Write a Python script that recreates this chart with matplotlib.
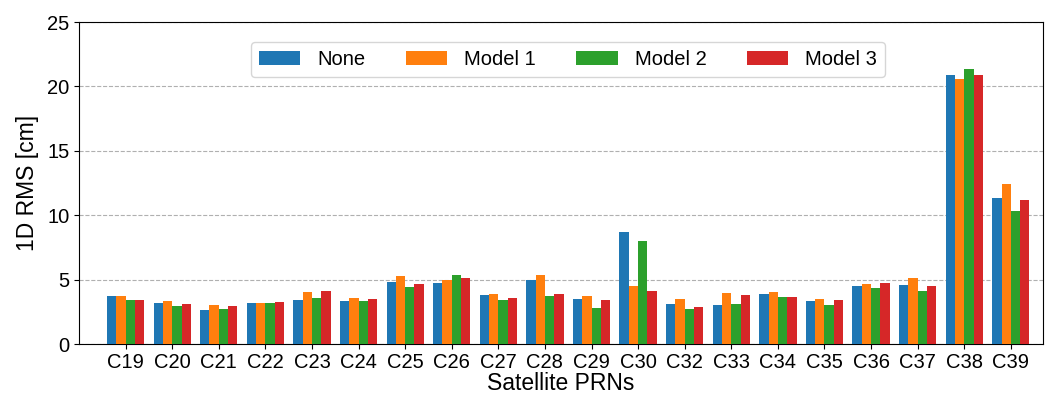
import numpy as np
import matplotlib.pyplot as plt

plt.rcParams['font.family'] = ['Liberation Sans', 'DejaVu Sans']

prns = ['C19', 'C20', 'C21', 'C22', 'C23', 'C24', 'C25', 'C26', 'C27', 'C28',
        'C29', 'C30', 'C32', 'C33', 'C34', 'C35', 'C36', 'C37', 'C38', 'C39']
none = [3.71, 3.20, 2.63, 3.22, 3.43, 3.35, 4.85, 4.75, 3.79, 5.00,
        3.50, 8.73, 3.07, 2.99, 3.92, 3.35, 4.54, 4.57, 20.92, 11.37]
model1 = [3.71, 3.30, 3.04, 3.20, 4.00, 3.58, 5.26, 5.00, 3.89, 5.32,
          3.69, 4.54, 3.53, 3.95, 4.05, 3.48, 4.67, 5.16, 20.59, 12.46]
model2 = [3.43, 2.94, 2.73, 3.20, 3.61, 3.35, 4.44, 5.32, 3.43, 3.74,
          2.81, 7.96, 2.73, 3.14, 3.64, 2.99, 4.33, 4.15, 21.36, 10.34]
model3 = [3.43, 3.14, 2.96, 3.27, 4.08, 3.53, 4.62, 5.14, 3.58, 3.89,
          3.40, 4.08, 2.91, 3.77, 3.66, 3.43, 4.70, 4.52, 20.92, 11.17]

series = [('None', none, '#1f77b4'), ('Model 1', model1, '#ff7f0e'),
          ('Model 2', model2, '#2ca02c'), ('Model 3', model3, '#d62728')]

fig = plt.figure(figsize=(10.45, 3.98), dpi=100)
ax = fig.add_axes([79 / 1045, 1 - 344 / 398, 964 / 1045, 322 / 398])

x = np.arange(len(prns))
w = 0.2
for i, (name, vals, col) in enumerate(series):
    ax.bar(x + (i - 1.5) * w, vals, w, label=name, color=col, zorder=3)

ax.set_xticks(x)
ax.set_xticklabels(prns, fontsize=14.5)
ax.set_xlim(-1, 19.69)
ax.set_ylim(0, 25)
ax.set_yticks([0, 5, 10, 15, 20, 25])
ax.tick_params(axis='y', labelsize=14.5)
ax.tick_params(axis='x', pad=3)
ax.yaxis.grid(True, linestyle='--', color='#b0b0b0', linewidth=0.8)
ax.set_xlabel('Satellite PRNs', fontsize=16.5, labelpad=0)
ax.set_ylabel('1D RMS [cm]', fontsize=16.5, labelpad=6)

ax.legend(ncol=4, loc='upper left', bbox_to_anchor=(0.168, 0.968), fontsize=14.5,
          columnspacing=2.0, handlelength=2.05, handletextpad=0.85)

plt.savefig('out.png')
